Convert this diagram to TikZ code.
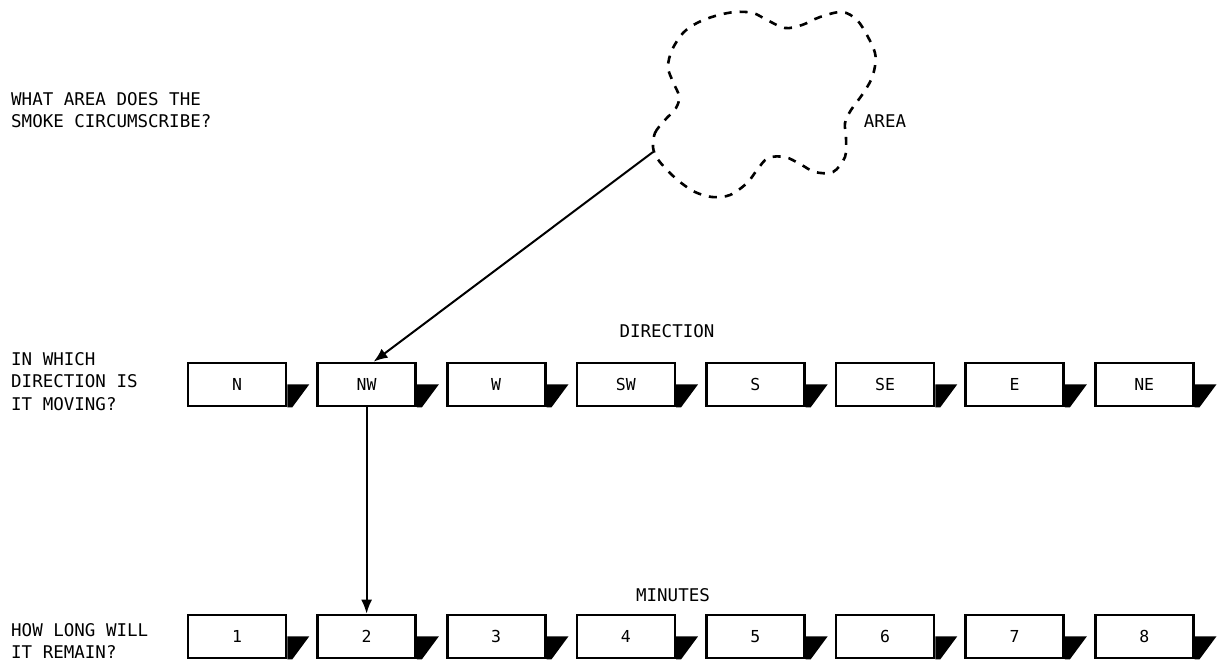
\documentclass[tikz,border=0pt]{standalone}
\usepackage{fontspec}
\setmainfont{DejaVu Sans Mono}
\usetikzlibrary{arrows.meta,calc}
\begin{document}
\begin{tikzpicture}[x=1pt,y=-1pt,
  lbl/.style={font=\fontsize{17.5}{22.5}\selectfont, inner sep=0pt},
  txt/.style={lbl, align=left, anchor=north west},
  choice/.style={draw, line width=2.6pt, minimum width=98pt, minimum height=43pt, inner sep=0pt, font=\fontsize{16.5}{20}\selectfont},
  flag/.style={fill=black},
  conn/.style={line width=2pt, -{Latex[length=14pt,width=11pt]}},
  cloudline/.style={line width=2.6pt, dash pattern=on 8pt off 8pt}]
\useasboundingbox (0,0) rectangle (1217,669);

% questions
\node[txt] (q1) at (11,92) {WHAT AREA DOES THE\\SMOKE CIRCUMSCRIBE?};
\node[txt] (q2) at (11,352) {IN WHICH\\DIRECTION IS\\IT MOVING?};
\node[txt] (q3) at (11,623) {HOW LONG WILL\\IT REMAIN?};

% row labels
\node[lbl] (dir) at (667,331.5) {DIRECTION};
\node[lbl] (min) at (673,595.5) {MINUTES};
\node[lbl] (area) at (885,121.5) {AREA};

% direction row
\foreach \t [count=\i] in {N,NW,W,SW,S,SE,E,NE}
  \node[choice] (d\i) at ({237+129.6*(\i-1)},384.5) {\t};
% minutes row
\foreach \t [count=\i] in {1,2,3,4,5,6,7,8}
  \node[choice] (m\i) at ({237+129.6*(\i-1)},636.5) {\t};

% flags
\foreach \i in {1,...,8} {
  \fill[flag] (d\i.south east) ++(0,-23) -- ++(22,0) -- ($(d\i.south east)+(5,0)$) -- (d\i.south east) -- cycle;
  \fill[flag] (m\i.south east) ++(0,-23) -- ++(22,0) -- ($(m\i.south east)+(5,0)$) -- (m\i.south east) -- cycle;
}

% cloud
\draw[cloudline] plot[smooth cycle, tension=0.55] coordinates {
 (653,147) (655,133) (664,121) (676,108) (679,96) (673,82) (668,67) (672,50)
 (683,33) (697,23) (715,16) (735,12) (753,13) (767,20) (785,28) (802,25)
 (820,17) (842,12) (857,20) (868,37) (875,53) (875,66) (871,80) (862,95)
 (851,110) (845,123) (846,138) (845,157) (833,172) (815,172) (800,164)
 (785,157) (768,158) (757,170) (747,183) (730,195) (712,197) (695,192)
 (680,182) (667,170) (657,158)};
\coordinate (ca) at (653,152);

% connectors
\draw[conn] (ca) -- ($(d2.north)+(7,0)$);
\draw[conn] (d2.south) -- (m2.north);
\end{tikzpicture}
\end{document}
